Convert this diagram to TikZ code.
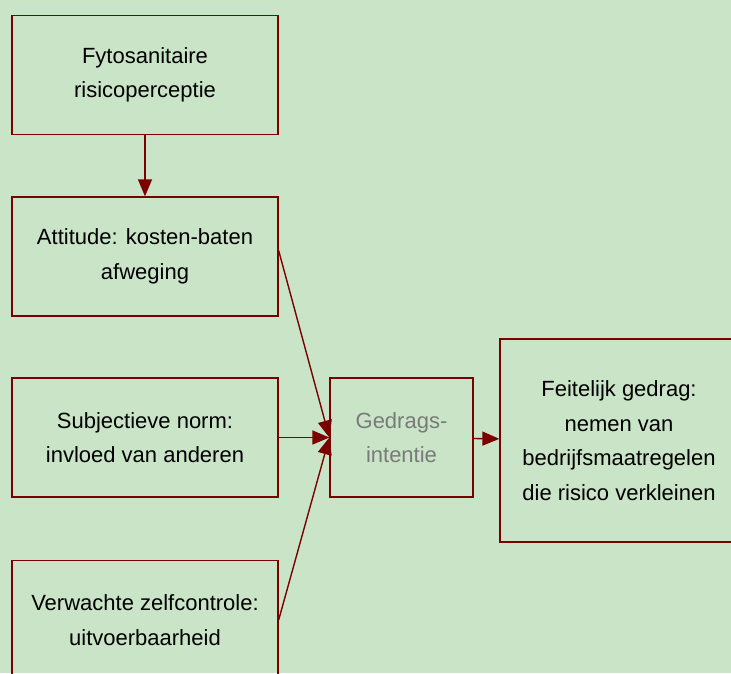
\documentclass[tikz,border=0pt]{standalone}
\usepackage{fontspec}
\setmainfont{Liberation Sans}
\usetikzlibrary{arrows.meta}
\definecolor{rand}{RGB}{123,0,0}
\definecolor{achtergrond}{RGB}{201,228,198}

\begin{document}
\begin{tikzpicture}
        [%%%%%%%%%%%%%%%%%%%%%%%%%%%%%%
        x=1pt,y=-1pt,
        box/.style={rectangle,draw=rand,line width=1.3pt,align=center,inner sep=0pt,
          font=\fontsize{22}{34.5}\selectfont,execute at begin node={\rule{0pt}{24pt}}},
        breedbox/.style={box,minimum width=266pt,minimum height=119pt},
        pijl/.style={draw=rand,line width=1.4pt,-{Triangle[length=17pt,width=14pt]}},
        ]%%%%%%%%%%%%%%%%%%%%%%%%%%%%%%
        
        \fill[achtergrond] (0,0) rectangle (731,673);
        \useasboundingbox (0,0) rectangle (731,673);
        \clip (0,0) rectangle (731,673);
        
        \node[breedbox] (fyto) at (145,75) {Fytosanitaire\\risicoperceptie};
        \node[breedbox] (attitude) at (145,256.5) {Attitude: kosten-baten\\afweging};
        \node[breedbox] (norm) at (145,437.5) {Subjectieve norm:\\invloed van anderen};
        \node[breedbox] (controle) at (145,620) {Verwachte zelfcontrole:\\uitvoerbaarheid};
        
        \node[box,minimum width=143pt,minimum height=119pt,text=black!52] (intentie) at (401.5,437.5) {Gedrags-\\intentie};
        \node[box,minimum width=238pt,minimum height=203pt] (gedrag) at (619,440.5) {Feitelijk gedrag:\\nemen van\\bedrijfsmaatregelen\\die risico verkleinen};
        
        \draw[pijl] (fyto) -- (attitude);
        \draw[pijl] ([yshift=6pt]attitude.east) -- (intentie.west);
        \draw[pijl] (norm) -- (intentie);
        \draw[pijl] (controle.east) -- (intentie.west);
        \draw[pijl] (intentie) -- (gedrag);
        
      \end{tikzpicture}
\end{document}
